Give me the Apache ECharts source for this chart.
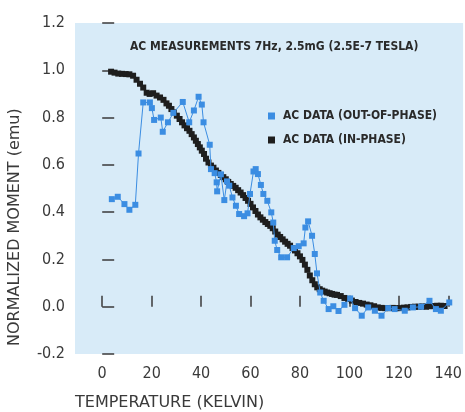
<!DOCTYPE html>
<html>
<head>
<meta charset="utf-8">
<title>AC measurements</title>
<script src="https://cdn.jsdelivr.net/npm/echarts@6/dist/echarts.min.js"></script>
<style>
  html, body { margin: 0; padding: 0; background: #fff; }
  #main { width: 465px; height: 412px; }
</style>
</head>
<body>
<div id="main"></div>
<script>
// out-of-phase AC data, [temperature K, normalized moment]
var outOfPhase = [
  [3.9, 0.455], [6.3, 0.465], [9.0, 0.434], [11.0, 0.41], [13.4, 0.431],
  [14.7, 0.648], [16.6, 0.864], [19.3, 0.864], [20.1, 0.84], [21.0, 0.79],
  [23.7, 0.80], [24.5, 0.74], [26.6, 0.78], [28.8, 0.82], [32.6, 0.866],
  [35.2, 0.78], [37.1, 0.83], [39.0, 0.888], [40.3, 0.855], [41.0, 0.78],
  [43.5, 0.685], [44.0, 0.582], [45.5, 0.565], [46.3, 0.526], [46.5, 0.488],
  [48.0, 0.56], [49.4, 0.451], [50.5, 0.53], [51.4, 0.512], [52.7, 0.462],
  [54.1, 0.427], [55.4, 0.392], [57.4, 0.383], [58.8, 0.395], [59.8, 0.477],
  [61.2, 0.572], [62.1, 0.582], [63.0, 0.561], [64.2, 0.515], [65.2, 0.477],
  [66.8, 0.448], [68.4, 0.399], [69.2, 0.356], [69.8, 0.279], [70.8, 0.24],
  [72.4, 0.209], [74.8, 0.209], [77.5, 0.248], [79.5, 0.256], [81.5, 0.268],
  [82.2, 0.335], [83.3, 0.361], [84.9, 0.30], [86.0, 0.223], [86.9, 0.141],
  [88.2, 0.06], [89.6, 0.025], [91.6, -0.01], [93.5, 0.002], [95.6, -0.018],
  [98.0, 0.008], [100.3, 0.035], [102.3, -0.006], [105.0, -0.038], [107.6, -0.003],
  [110.3, -0.017], [113.0, -0.038], [115.7, -0.006], [118.3, -0.01], [122.4, -0.017],
  [125.7, -0.003], [129.0, 0.0], [132.4, 0.025], [135.0, -0.01], [137.0, -0.017],
  [140.4, 0.018]
];

// in-phase AC data
var inPhase = [
  [3.6, 0.994], [5.0, 0.99], [6.5, 0.986], [8.0, 0.985], [9.5, 0.984],
  [11.0, 0.983], [12.5, 0.977], [13.9, 0.96], [15.3, 0.943], [16.6, 0.927],
  [18.0, 0.905], [19.2, 0.9], [20.6, 0.903], [22.0, 0.893], [23.4, 0.885],
  [24.8, 0.875], [26.0, 0.86], [27.0, 0.85], [28.0, 0.836], [29.0, 0.822],
  [30.2, 0.808], [31.3, 0.794], [32.3, 0.78], [33.3, 0.767], [34.3, 0.755],
  [35.3, 0.744], [36.2, 0.73], [37.1, 0.716], [37.9, 0.702], [38.7, 0.688],
  [39.5, 0.674], [40.3, 0.66], [41.2, 0.646], [42.0, 0.626], [43.0, 0.61],
  [44.0, 0.597], [45.0, 0.588], [46.0, 0.576], [47.0, 0.566], [48.0, 0.557],
  [49.0, 0.548], [50.0, 0.539], [51.0, 0.528], [52.0, 0.519], [53.0, 0.511],
  [54.0, 0.503], [55.0, 0.493], [56.0, 0.483], [57.0, 0.472], [58.0, 0.46],
  [59.0, 0.448], [60.0, 0.435], [61.0, 0.42], [62.0, 0.405], [63.0, 0.39],
  [64.0, 0.378], [65.0, 0.368], [66.0, 0.358], [67.0, 0.35], [68.0, 0.342],
  [69.0, 0.332], [70.0, 0.318], [71.0, 0.305], [72.0, 0.295], [73.0, 0.285],
  [74.0, 0.275], [75.0, 0.266], [76.0, 0.258], [77.0, 0.248], [78.0, 0.238],
  [79.0, 0.226], [80.0, 0.213], [81.0, 0.198], [82.0, 0.178], [83.0, 0.156],
  [84.0, 0.132], [85.0, 0.112], [86.0, 0.095], [87.0, 0.082], [88.0, 0.074],
  [89.0, 0.068], [90.0, 0.064], [91.0, 0.06], [92.0, 0.057], [93.0, 0.054],
  [94.0, 0.051], [95.0, 0.05], [96.5, 0.045], [98.0, 0.037], [99.5, 0.033],
  [101.0, 0.026], [102.5, 0.02], [104.0, 0.016], [105.5, 0.013], [107.0, 0.009],
  [108.5, 0.006], [110.0, 0.002], [111.5, -0.003], [113.0, -0.005], [114.5, -0.006],
  [116.0, -0.006], [117.5, -0.005], [119.0, -0.006], [120.5, -0.006], [122.0, -0.004],
  [123.5, -0.003], [125.0, -0.001], [126.5, 0.0], [128.0, 0.0], [129.5, 0.001],
  [131.0, 0.0], [132.5, 0.002], [134.0, 0.003], [135.5, 0.004], [137.0, 0.004],
  [138.5, 0.003]
];

var xTicks = [0, 20, 40, 60, 80, 100, 120, 140];
var seriesNames = ['AC DATA (OUT-OF-PHASE)', 'AC DATA (IN-PHASE)'];

var FONT = '"DejaVu Sans Condensed", "DejaVu Sans", sans-serif';
var INK = '#3a3a3a';

var chart = echarts.init(document.getElementById('main'));

chart.setOption({
  animation: false,
  backgroundColor: '#ffffff',
  title: {
    text: 'AC MEASUREMENTS 7Hz, 2.5mG (2.5E-7 TESLA)',
    left: 130,
    top: 41,
    padding: 0,
    textStyle: { fontFamily: FONT, fontSize: 12, fontWeight: 'bold', color: '#2a2a2a' }
  },
  legend: {
    orient: 'vertical',
    left: 268,
    top: 110,
    padding: 0,
    itemWidth: 7,
    itemHeight: 7,
    itemGap: 12,
    data: [
      { name: seriesNames[0], icon: 'rect' },
      { name: seriesNames[1], icon: 'rect' }
    ],
    textStyle: {
      fontFamily: FONT, fontSize: 12, fontWeight: 'bold', color: '#2a2a2a',
      padding: [0, 0, 0, 3]
    }
  },
  grid: {
    left: 75, right: 0, top: 23, bottom: 58,
    show: true,
    backgroundColor: '#d8ebf8',
    borderWidth: 0
  },
  xAxis: {
    type: 'value',
    min: -11,
    max: 146,
    splitLine: { show: false },
    axisLine: { show: false },
    axisTick: {
      show: true, inside: true, length: 11,
      customValues: xTicks,
      lineStyle: { color: INK, width: 1.5 }
    },
    axisLabel: {
      customValues: xTicks,
      margin: 12,
      fontFamily: FONT, fontSize: 16, color: INK
    }
  },
  yAxis: {
    type: 'value',
    min: -0.2,
    max: 1.2,
    interval: 0.2,
    splitLine: { show: false },
    axisLine: { show: false },
    axisTick: { show: true, inside: true, length: 12, lineStyle: { color: INK, width: 1.5 } },
    axisLabel: {
      margin: 10,
      fontFamily: FONT, fontSize: 16, color: INK,
      formatter: function (v) { return v.toFixed(1); }
    }
  },
  graphic: [
    {
      type: 'text',
      left: 75,
      top: 395,
      style: { text: 'TEMPERATURE (KELVIN)', font: '16px "DejaVu Sans", sans-serif', fill: INK }
    },
    {
      type: 'text',
      x: 7,
      y: 346,
      rotation: Math.PI / 2,
      style: { text: 'NORMALIZED MOMENT (emu)', font: '16px "DejaVu Sans", sans-serif', fill: INK }
    }
  ],
  series: [
    {
      name: seriesNames[0],
      type: 'line',
      data: outOfPhase,
      symbol: 'rect',
      symbolSize: 6,
      showAllSymbol: true,
      color: '#3b8de2',
      lineStyle: { width: 1, color: '#3b8de2' },
      itemStyle: { color: '#3b8de2' }
    },
    {
      name: seriesNames[1],
      type: 'scatter',
      data: inPhase,
      symbol: 'rect',
      symbolSize: 6,
      itemStyle: { color: '#1e1e1e', opacity: 1 }
    }
  ]
});
</script>
</body>
</html>
